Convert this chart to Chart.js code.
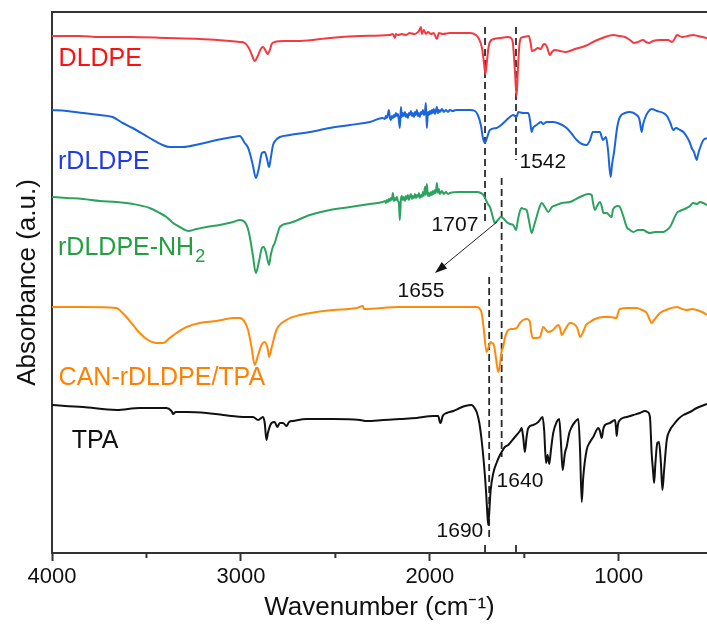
<!DOCTYPE html>
<html>
<head>
<meta charset="utf-8">
<script src="https://cdn.jsdelivr.net/npm/chart.js@4"></script>
<style>
  html, body { margin: 0; padding: 0; background: #fff; overflow: hidden; }
</style>
</head>
<body>
<canvas id="chart" width="707" height="631"></canvas>
<script>
const FONT = '"Liberation Sans", Arial, sans-serif'

// =======================
// Spectra: [wavenumber (cm-1), absorbance (a.u., stacked)]
// =======================
const dldpe = [
  [4000, 517], [3853, 517], [3747, 516], [3588, 516], [3393, 515], [3218, 514], [3059, 512], [3006, 511],
  [2980, 510], [2958, 505], [2942, 498], [2927, 492], [2911, 497], [2895, 504], [2884, 506], [2874, 504],
  [2863, 500], [2858, 499], [2847, 503], [2837, 509], [2821, 511], [2768, 512], [2688, 512], [2529, 515],
  [2370, 517], [2212, 518], [2196, 519], [2185, 515], [2180, 519], [2169, 518], [2148, 519], [2127, 518],
  [2106, 520], [2084, 519], [2069, 520], [2058, 522], [2047, 526], [2042, 519], [2032, 523], [2021, 519],
  [2010, 521], [1994, 519], [1979, 520], [1963, 514], [1952, 520], [1931, 519], [1894, 520], [1867, 520],
  [1788, 520], [1756, 518], [1740, 514], [1724, 505], [1714, 491], [1706, 479], [1698, 491], [1690, 505],
  [1682, 511], [1661, 514], [1629, 515], [1587, 516], [1571, 515], [1560, 509], [1550, 483], [1541, 457],
  [1534, 483], [1526, 508], [1518, 515], [1502, 516], [1476, 517], [1465, 508], [1460, 502], [1444, 503],
  [1428, 505], [1412, 504], [1401, 508], [1391, 509], [1380, 506], [1364, 498], [1354, 501], [1338, 503],
  [1311, 502], [1280, 501], [1232, 504], [1179, 507], [1126, 512], [1073, 516], [1031, 518], [994, 517],
  [967, 516], [941, 513], [919, 510], [898, 511], [872, 513], [856, 511], [840, 510], [819, 512],
  [782, 513], [739, 513], [718, 511], [702, 515], [692, 518], [665, 516], [634, 517], [607, 518],
  [581, 517], [559, 516], [533, 515]
]

const rdldpe = [
  [4000, 443], [3922, 442], [3837, 440], [3747, 438], [3679, 436], [3626, 430], [3573, 425], [3483, 415],
  [3414, 408], [3377, 406], [3308, 406], [3218, 409], [3128, 413], [3043, 416], [3006, 417], [2980, 410],
  [2964, 406], [2953, 400], [2937, 388], [2921, 375], [2905, 385], [2889, 400], [2874, 401], [2863, 395],
  [2851, 386], [2842, 395], [2830, 408], [2815, 413], [2794, 416], [2741, 418], [2635, 421], [2529, 425],
  [2423, 428], [2318, 431], [2249, 435], [2238, 434], [2233, 437], [2227, 435], [2222, 439], [2217, 443],
  [2212, 436], [2206, 433], [2201, 437], [2196, 435], [2190, 438], [2185, 436], [2180, 440], [2174, 437],
  [2169, 439], [2164, 433], [2159, 425], [2153, 446], [2148, 436], [2143, 440], [2137, 437], [2132, 441],
  [2127, 436], [2122, 439], [2116, 435], [2111, 440], [2106, 438], [2100, 442], [2095, 437], [2090, 440],
  [2084, 436], [2079, 441], [2074, 438], [2069, 443], [2063, 437], [2058, 440], [2053, 436], [2047, 441],
  [2042, 439], [2037, 443], [2032, 438], [2026, 441], [2021, 450], [2016, 425], [2010, 441], [2005, 438],
  [2000, 442], [1994, 439], [1989, 443], [1984, 440], [1979, 444], [1973, 439], [1968, 442], [1963, 446],
  [1957, 440], [1952, 443], [1947, 441], [1936, 444], [1926, 441], [1915, 443], [1904, 441], [1894, 443],
  [1878, 442], [1862, 443], [1841, 443], [1788, 443], [1761, 442], [1746, 438], [1730, 428], [1719, 415],
  [1708, 410], [1698, 415], [1682, 423], [1647, 425], [1629, 427], [1594, 433], [1576, 436], [1559, 438],
  [1541, 436], [1532, 441], [1507, 440], [1479, 440], [1470, 433], [1461, 421], [1454, 425], [1435, 428],
  [1412, 431], [1401, 429], [1382, 431], [1347, 431], [1311, 429], [1276, 425], [1248, 419], [1223, 413],
  [1195, 409], [1170, 408], [1152, 413], [1137, 421], [1126, 421], [1100, 421], [1089, 415], [1084, 413],
  [1068, 416], [1057, 403], [1043, 376], [1036, 388], [1025, 401], [1009, 425], [994, 436], [967, 440],
  [941, 441], [905, 438], [893, 435], [888, 431], [879, 421], [872, 428], [861, 435], [845, 441],
  [826, 444], [798, 442], [764, 440], [745, 437], [729, 431], [711, 423], [697, 425], [676, 423],
  [658, 421], [639, 416], [623, 410], [614, 405], [602, 401], [587, 393], [581, 398], [570, 405],
  [552, 413], [533, 415]
]

const rdldpeNH2 = [
  [4000, 356], [3924, 355], [3836, 354], [3747, 352], [3659, 351], [3571, 349], [3483, 345], [3430, 340],
  [3394, 336], [3359, 330], [3324, 326], [3280, 322], [3235, 324], [3182, 326], [3112, 328], [3041, 331],
  [3006, 333], [2980, 331], [2964, 325], [2953, 316], [2937, 298], [2921, 280], [2905, 291], [2889, 305],
  [2879, 306], [2868, 301], [2851, 288], [2842, 298], [2831, 306], [2821, 310], [2805, 320], [2794, 326],
  [2741, 330], [2635, 338], [2529, 343], [2423, 346], [2318, 349], [2249, 351], [2238, 352], [2233, 350],
  [2227, 353], [2222, 351], [2217, 354], [2212, 352], [2206, 355], [2201, 353], [2196, 360], [2190, 352],
  [2185, 355], [2180, 353], [2174, 356], [2169, 352], [2164, 350], [2159, 333], [2153, 354], [2148, 357],
  [2143, 353], [2137, 356], [2132, 352], [2127, 357], [2122, 354], [2116, 358], [2111, 353], [2106, 356],
  [2100, 359], [2095, 354], [2090, 357], [2084, 355], [2079, 359], [2074, 355], [2069, 358], [2063, 356],
  [2058, 360], [2053, 355], [2047, 358], [2042, 356], [2037, 361], [2032, 357], [2026, 366], [2021, 358],
  [2016, 369], [2010, 357], [2005, 360], [2000, 357], [1994, 361], [1989, 358], [1984, 362], [1979, 359],
  [1973, 363], [1968, 360], [1963, 370], [1957, 360], [1952, 364], [1947, 359], [1936, 362], [1926, 359],
  [1915, 361], [1904, 359], [1894, 360], [1841, 361], [1788, 361], [1752, 361], [1730, 360], [1717, 358],
  [1703, 353], [1693, 349], [1682, 346], [1671, 339], [1661, 332], [1656, 330], [1640, 333], [1624, 336],
  [1608, 334], [1594, 331], [1576, 329], [1559, 328], [1544, 323], [1534, 333], [1523, 342], [1514, 345],
  [1502, 344], [1488, 343], [1476, 333], [1461, 320], [1449, 327], [1435, 336], [1423, 344], [1408, 350],
  [1391, 346], [1373, 341], [1354, 346], [1329, 348], [1301, 350], [1258, 351], [1205, 356], [1161, 359],
  [1143, 358], [1137, 351], [1126, 343], [1115, 347], [1100, 351], [1089, 346], [1082, 340], [1064, 340],
  [1052, 338], [1038, 336], [1031, 343], [1020, 346], [1004, 347], [994, 346], [978, 338], [958, 326],
  [941, 323], [923, 321], [898, 323], [870, 323], [851, 321], [835, 320], [808, 321], [782, 321],
  [764, 321], [745, 323], [729, 326], [713, 332], [693, 340], [676, 342], [640, 345], [623, 347],
  [607, 350], [586, 349], [570, 351], [554, 350], [533, 348]
]

const canTpa = [
  [4000, 246], [3836, 246], [3659, 245], [3632, 241], [3606, 236], [3571, 228], [3536, 220], [3492, 213],
  [3447, 210], [3412, 210], [3377, 215], [3341, 220], [3288, 226], [3218, 230], [3129, 232], [3041, 235],
  [3006, 235], [2980, 231], [2962, 223], [2944, 206], [2927, 188], [2909, 198], [2891, 208], [2874, 211],
  [2859, 205], [2851, 196], [2838, 205], [2812, 223], [2759, 233], [2688, 238], [2600, 241], [2512, 243],
  [2388, 245], [2355, 247], [2349, 244], [2159, 246], [1894, 246], [1752, 246], [1740, 245], [1726, 240],
  [1714, 223], [1700, 201], [1690, 205], [1678, 211], [1671, 210], [1661, 208], [1650, 195], [1638, 181],
  [1629, 188], [1621, 201], [1612, 206], [1603, 215], [1585, 223], [1566, 224], [1541, 225], [1523, 230],
  [1506, 233], [1486, 234], [1470, 231], [1465, 223], [1456, 215], [1438, 215], [1417, 216], [1400, 226],
  [1385, 223], [1373, 221], [1348, 223], [1320, 228], [1311, 225], [1302, 218], [1285, 223], [1258, 230],
  [1237, 229], [1223, 226], [1216, 223], [1205, 216], [1189, 221], [1173, 228], [1152, 231], [1126, 234],
  [1082, 236], [1047, 236], [1011, 235], [1004, 240], [994, 244], [951, 245], [905, 245], [877, 243],
  [852, 240], [840, 235], [826, 230], [813, 233], [782, 240], [750, 243], [693, 246], [665, 244],
  [640, 243], [612, 244], [587, 243], [559, 241], [533, 238]
]

const tpa = [
  [4000, 148], [3836, 146], [3659, 143], [3536, 145], [3394, 145], [3368, 142], [3359, 139], [3345, 141],
  [3288, 141], [3182, 140], [3094, 138], [2971, 136], [2936, 136], [2909, 133], [2883, 136], [2874, 130],
  [2865, 113], [2856, 121], [2838, 130], [2821, 131], [2808, 126], [2794, 130], [2777, 130], [2759, 127],
  [2745, 131], [2724, 132], [2653, 134], [2512, 134], [2370, 133], [2335, 132], [2247, 133], [2159, 134],
  [2070, 135], [1982, 137], [1956, 137], [1947, 131], [1943, 130], [1932, 137], [1911, 140], [1876, 142],
  [1841, 145], [1814, 147], [1779, 148], [1767, 146], [1752, 141], [1738, 130], [1726, 113], [1714, 90],
  [1703, 63], [1696, 40], [1691, 28], [1685, 43], [1678, 63], [1664, 80], [1647, 90], [1629, 98],
  [1620, 101], [1603, 106], [1585, 108], [1550, 116], [1523, 122], [1514, 125], [1506, 116], [1497, 101],
  [1488, 116], [1479, 125], [1453, 128], [1426, 131], [1403, 136], [1395, 123], [1385, 90], [1377, 98],
  [1368, 89], [1359, 103], [1347, 120], [1329, 131], [1315, 134], [1306, 110], [1297, 83], [1285, 100],
  [1276, 106], [1262, 120], [1249, 126], [1232, 131], [1214, 134], [1205, 103], [1196, 51], [1188, 76],
  [1170, 103], [1152, 111], [1135, 116], [1108, 125], [1100, 122], [1090, 115], [1082, 124], [1073, 128],
  [1047, 130], [1020, 133], [1015, 126], [1011, 117], [1006, 126], [1001, 131], [958, 136], [923, 138],
  [888, 140], [861, 142], [847, 141], [835, 136], [826, 100], [819, 83], [813, 70], [806, 90],
  [796, 110], [787, 111], [777, 90], [769, 63], [760, 83], [746, 113], [729, 123], [711, 128],
  [685, 134], [658, 138], [623, 141], [587, 145], [533, 149]
]

const seriesNames = ['DLDPE', 'rDLDPE', 'rDLDPE-NH2', 'CAN-rDLDPE/TPA', 'TPA']
const seriesData = [dldpe, rdldpe, rdldpeNH2, canTpa, tpa]
const lineColors = ['#f43a3f', '#1a64de', '#2ba35f', '#ff8a0a', '#111111']
const textColors = ['#ff1010', '#1f3ae6', '#22a040', '#ff8000', '#111111']

// where each sample name sits (wavenumber, a.u.)
const nameWn = [3965, 3968, 3968, 3965, 3896]
const nameAbs = [494, 391, 305, 175, 112]

// =======================
// Peak markers
// =======================
const markWn = [1708, 1544, 1686, 1620, 1708, 1544]
const markFrom = [526, 526, 276, 375, 8, 8]
const markTo = [328, 393, 13, 96, 0, 0]

const peakText = ['1542', '1707', '1655', '1640', '1690']
const peakWn = [1402, 1867, 2047, 1523, 1841]
const peakAbs = [391, 328, 262, 72, 22]

// arrow from the green shoulder down to the 1655 label
const arrowWn = [1645, 1973]
const arrowAbs = [331, 280]

const majorTicks = [4000, 3000, 2000, 1000]
const minorTicks = [3500, 2500, 1500]


// =======================
// Datasets
// =======================
const spectra = seriesNames.map((name, s) => ({
  label: name,
  data: seriesData[s].map(p => ({ x: p[0], y: p[1] })),
  borderColor: lineColors[s],
  borderWidth: 2,
  pointRadius: 0,
  cubicInterpolationMode: 'monotone',
  fill: false
}))

const markers = markWn.map((w, i) => ({
  label: 'mark' + i,
  data: [{ x: w, y: markFrom[i] }, { x: w, y: markTo[i] }],
  borderColor: '#2a2a2a',
  borderWidth: 1.8,
  borderDash: [7, 4],
  pointRadius: 0,
  fill: false
}))


// =======================
// Plugins: frame, minor ticks, labels, arrow
// =======================
const extras = {
  id: 'extras',
  afterDatasetsDraw(chart) {
    const { ctx, chartArea, scales } = chart
    const x = scales.x
    const y = scales.y

    ctx.save()

    // top frame line
    ctx.strokeStyle = '#333'
    ctx.lineWidth = 2
    ctx.beginPath()
    ctx.moveTo(chartArea.left - 1, chartArea.top)
    ctx.lineTo(chartArea.right, chartArea.top)
    ctx.stroke()

    // minor ticks
    minorTicks.forEach(v => {
      const px = x.getPixelForValue(v)
      ctx.beginPath()
      ctx.moveTo(px, chartArea.bottom)
      ctx.lineTo(px, chartArea.bottom + 5)
      ctx.stroke()
    })

    // sample names
    ctx.textBaseline = 'middle'
    ctx.textAlign = 'left'
    seriesNames.forEach((name, s) => {
      const px = x.getPixelForValue(nameWn[s])
      const py = y.getPixelForValue(nameAbs[s])
      ctx.fillStyle = textColors[s]
      ctx.font = '25px ' + FONT
      if (name.endsWith('NH2')) {
        const base = name.slice(0, -1)
        ctx.fillText(base, px, py)
        const w = ctx.measureText(base).width
        ctx.font = '18px ' + FONT
        ctx.fillText('2', px + w + 1, py + 9)
      } else {
        ctx.fillText(name, px, py)
      }
    })

    // peak positions
    ctx.fillStyle = '#111'
    ctx.font = '21px ' + FONT
    ctx.textAlign = 'center'
    peakText.forEach((t, i) => {
      ctx.fillText(t, x.getPixelForValue(peakWn[i]), y.getPixelForValue(peakAbs[i]))
    })

    // arrow
    const x1 = x.getPixelForValue(arrowWn[0])
    const y1 = y.getPixelForValue(arrowAbs[0])
    const x2 = x.getPixelForValue(arrowWn[1])
    const y2 = y.getPixelForValue(arrowAbs[1])
    const ang = Math.atan2(y2 - y1, x2 - x1)
    const head = 13
    ctx.strokeStyle = '#222'
    ctx.lineWidth = 1
    ctx.beginPath()
    ctx.moveTo(x1, y1)
    ctx.lineTo(x2 - Math.cos(ang) * head * 0.8, y2 - Math.sin(ang) * head * 0.8)
    ctx.stroke()
    ctx.fillStyle = '#111'
    ctx.beginPath()
    ctx.moveTo(x2, y2)
    ctx.lineTo(x2 - head * Math.cos(ang - 0.33), y2 - head * Math.sin(ang - 0.33))
    ctx.lineTo(x2 - head * Math.cos(ang + 0.33), y2 - head * Math.sin(ang + 0.33))
    ctx.closePath()
    ctx.fill()

    ctx.restore()
  }
}


// =======================
// Chart
// =======================
new Chart(document.getElementById('chart'), {
  type: 'line',
  data: { datasets: [...spectra, ...markers] },
  options: {
    animation: false,
    responsive: false,
    devicePixelRatio: 1,
    layout: { padding: { top: 12, right: 0, left: 0, bottom: 0 } },
    plugins: {
      legend: { display: false },
      tooltip: { enabled: false }
    },
    scales: {
      x: {
        type: 'linear',
        reverse: true,
        min: 533,
        max: 4000,
        afterBuildTicks(scale) {
          scale.ticks = majorTicks.map(v => ({ value: v }))
        },
        ticks: {
          maxRotation: 0,
          autoSkip: false,
          padding: 3,
          color: '#111',
          font: { size: 22, family: FONT },
          callback: v => String(v)
        },
        grid: {
          drawOnChartArea: false,
          drawTicks: true,
          tickLength: 8,
          tickWidth: 2,
          tickColor: '#333'
        },
        border: { color: '#333', width: 2 },
        title: {
          display: true,
          text: 'Wavenumber (cm⁻¹)',
          color: '#111',
          font: { size: 26, family: FONT },
          padding: { top: 0, bottom: 8 }
        },
        afterFit(scale) { scale.height = 78 }
      },
      y: {
        min: 0,
        max: 541,
        ticks: { display: false },
        grid: { display: false },
        border: { display: true, color: '#333', width: 2 },
        title: {
          display: true,
          text: 'Absorbance (a.u.)',
          color: '#111',
          font: { size: 26, family: FONT },
          padding: { top: 12, bottom: 0 }
        },
        afterFit(scale) { scale.width = 52 }
      }
    }
  },
  plugins: [extras]
})
</script>
</body>
</html>
